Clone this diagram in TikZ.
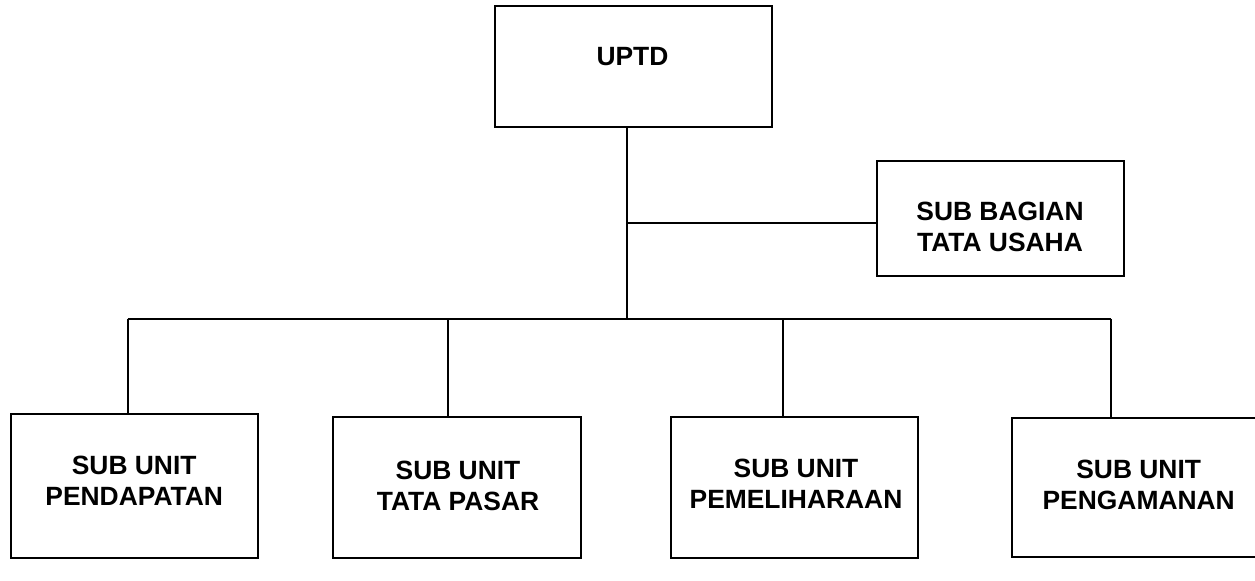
\documentclass[tikz,border=0pt]{standalone}
\usepackage{fontspec}
\setmainfont{Liberation Sans}
\begin{document}
\begin{tikzpicture}[x=0.5pt,y=-0.5pt,
  box/.style={draw, line width=1pt, rectangle, inner sep=0pt},
  lbl/.style={align=center, font=\bfseries\fontsize{13.2}{15.5}\selectfont, inner sep=0pt},
  conn/.style={line width=1pt}]
\clip (0,0) rectangle (1255,580);
% boxes
\node[box, minimum width=138.5pt, minimum height=60.25pt] (uptd) at (633.5,66.3) {};
\node[box, minimum width=123.5pt, minimum height=57.5pt] (sbtu) at (1000.5,218.3) {};
\node[box, minimum width=123.5pt, minimum height=72pt] (b1) at (134.2,486.3) {};
\node[box, minimum width=124pt, minimum height=70.5pt] (b2) at (457,487.5) {};
\node[box, minimum width=123.5pt, minimum height=70.5pt] (b3) at (794.2,487.5) {};
\node[box, minimum width=124pt, minimum height=69.5pt] (b4) at (1136,487.2) {};
% labels
\node[lbl] (tuptd) at (632.5,56.7) {UPTD};
\node[lbl] (tsbtu) at (1000,226.5) {SUB BAGIAN\\TATA USAHA};
\node[lbl] (t1) at (134.2,480.5) {SUB UNIT\\PENDAPATAN};
\node[lbl] (t2) at (458,486) {SUB UNIT\\TATA PASAR};
\node[lbl] (t3) at (796,484) {SUB UNIT\\PEMELIHARAAN};
\node[lbl] (t4) at (1138.7,485) {SUB UNIT\\PENGAMANAN};
% connectors
\coordinate (j0) at (626.7,318.7);
\coordinate (j1) at (626.7,222.5);
\coordinate (d1) at (127.7,318.7);
\coordinate (d2) at (447.7,318.7);
\coordinate (d3) at (782.7,318.7);
\coordinate (d4) at (1110.7,318.7);
\draw[conn] (uptd.south -| j0) -- (j0);
\draw[conn] (j1) -- (j1 -| sbtu.west);
\draw[conn] (d1) -- (d4);
\draw[conn] (d1) -- (d1 |- b1.north);
\draw[conn] (d2) -- (d2 |- b2.north);
\draw[conn] (d3) -- (d3 |- b3.north);
\draw[conn] (d4) -- (d4 |- b4.north);
\end{tikzpicture}
\end{document}
